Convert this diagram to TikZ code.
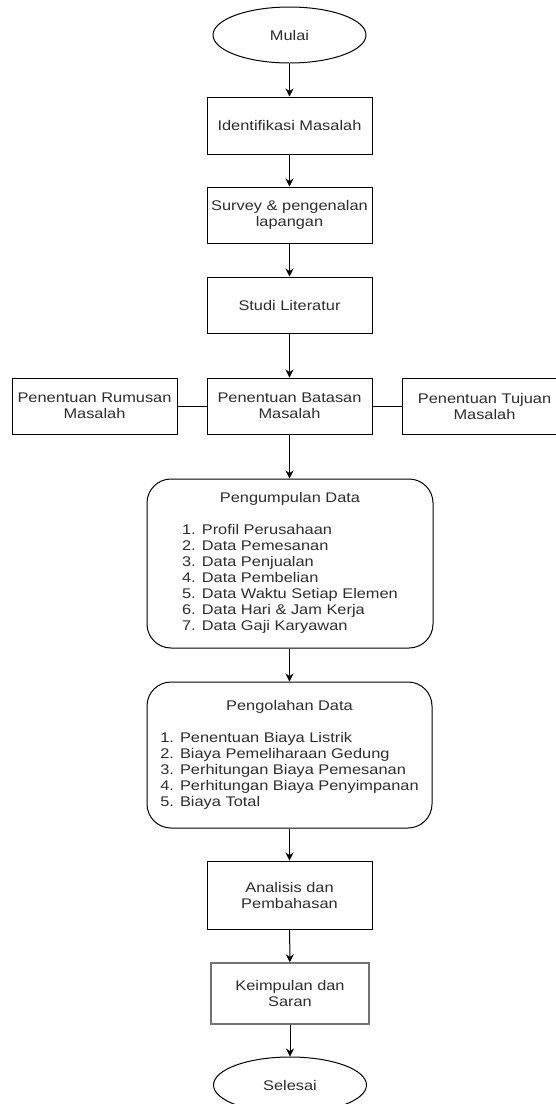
\documentclass[tikz,border=0pt]{standalone}
\usepackage{fontspec}
\setmainfont{Liberation Sans}[FakeStretch=1.17]
\usetikzlibrary{shapes.geometric,arrows.meta}
\definecolor{txt}{RGB}{45,45,45}
\begin{document}
\begin{tikzpicture}[x=1pt,y=-1pt,
  every node/.style={font=\fontsize{14pt}{16pt}\selectfont, text=txt, inner sep=0pt},
  box/.style={draw, line width=1pt, rectangle, minimum width=165pt, align=center},
  term/.style={draw, line width=1pt, ellipse, minimum width=153pt, minimum height=56pt},
  rbox/.style={draw, line width=1pt, rounded corners=24pt, minimum width=286pt},
  arr/.style={line width=1pt, -{Stealth[length=8pt,width=8pt]}},
  link/.style={line width=1pt}]
\clip (0,0) rectangle (556,1104);
\fill[white] (0,0) rectangle (556,1104);
\node[term] (mulai) at (289.5,35) {Mulai};
\node[box, minimum height=57pt] (ident) at (289.5,125.5) {Identifikasi Masalah};
\node[box, minimum height=56pt] (survey) at (289.5,215) {Survey \& pengenalan\\lapangan};
\node[box, minimum height=56pt] (studi) at (289.5,305) {Studi Literatur};
\node[box, minimum height=56pt] (batasan) at (289.5,406) {Penentuan Batasan\\Masalah};
\node[box, minimum height=56pt] (rumusan) at (94.5,406) {Penentuan Rumusan\\Masalah};
\node[box, minimum height=56pt] (tujuan) at (484.5,406) {Penentuan Tujuan\\Masalah};
\node[rbox, minimum height=169pt] (kumpul) at (290,563.5) {\begin{tabular}{@{}l@{}}\multicolumn{1}{@{}c@{}}{Pengumpulan Data}\\[16pt]
1. Profil Perusahaan\\
2. Data Pemesanan\\
3. Data Penjualan\\
4. Data Pembelian\\
5. Data Waktu Setiap Elemen\\
6. Data Hari \& Jam Kerja\\
7. Data Gaji Karyawan\end{tabular}};
\node[rbox, minimum height=146pt, minimum width=285pt] (olah) at (289.5,755) {\begin{tabular}{@{}l@{}}\multicolumn{1}{@{}c@{}}{Pengolahan Data}\\[16pt]
1. Penentuan Biaya Listrik\\
2. Biaya Pemeliharaan Gedung\\
3. Perhitungan Biaya Pemesanan\\
4. Perhitungan Biaya Penyimpanan\\
5. Biaya Total\end{tabular}};
\node[box, minimum height=68pt] (analisis) at (289.5,895) {Analisis dan\\Pembahasan};
\node[box, draw=black!55, line width=1.4pt, minimum width=158pt, minimum height=61pt] (simpul) at (290,993.5) {Keimpulan dan\\Saran};
\node[term] (selesai) at (290,1085) {Selesai};
\draw[arr] (mulai) -- (ident);
\draw[arr] (ident) -- (survey);
\draw[arr] (survey) -- (studi);
\draw[arr] (studi) -- (batasan);
\draw[link] (rumusan) -- (batasan);
\draw[link] (batasan) -- (tujuan);
\draw[arr] (batasan) -- (kumpul.north -| batasan);
\draw[arr] (kumpul.south -| batasan) -- (olah.north -| batasan);
\draw[arr] (olah.south -| batasan) -- (analisis);
\draw[arr] (analisis) -- (simpul);
\draw[arr] (simpul) -- (selesai);
\end{tikzpicture}
\end{document}
